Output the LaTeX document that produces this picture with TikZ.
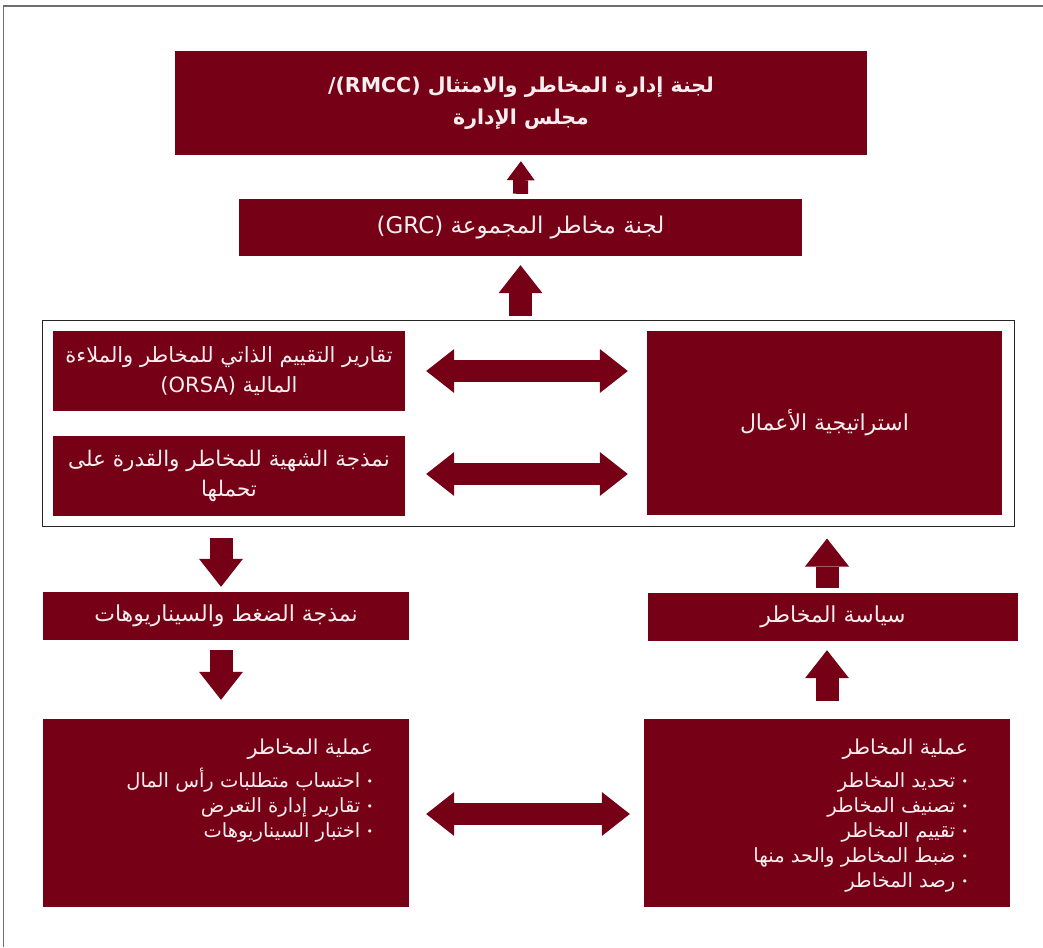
\documentclass[tikz,border=0pt]{standalone}
\usepackage{fontspec}
\usetikzlibrary{arrows.meta}
\TeXXeTstate=1
\newfontfamily\arabicfont[Script=Arabic]{DejaVu Sans}
\newfontfamily\latinfont{DejaVu Sans}
\definecolor{boxred}{RGB}{118,1,22}
\definecolor{boxtext}{RGB}{247,238,240}
\definecolor{framegray}{RGB}{110,110,110}
\newcommand\bulletmark{{\latinfont\fontsize{11}{11}\selectfont\raisebox{2pt}{•}}}
\begin{document}
\begin{tikzpicture}[x=1pt,y=-1pt,
  box/.style={fill=boxred, draw=none, text=boxtext, align=center, inner sep=0pt,
    font=\arabicfont\fontsize{22}{30}\selectfont},
  ptext/.style={text=boxtext, align=right, inner sep=0pt,
    font=\arabicfont\fontsize{19.5}{25}\selectfont},
  frameline/.style={draw=framegray, line width=1.3pt},
  blkarrow/.style={draw=boxred, line width=23pt,
    -{Triangle[width=44pt,length=28pt,line width=0pt]}},
  smallarrow/.style={draw=boxred, line width=15pt,
    -{Triangle[width=28pt,length=19pt,line width=0pt]}},
  dblarrow/.style={draw=boxred, line width=22pt,
    {Triangle[width=44pt,length=28pt,line width=0pt]}-{Triangle[width=44pt,length=28pt,line width=0pt]}}
]
\useasboundingbox (0,0) rectangle (1043,947);
\fill[white] (0,0) rectangle (1043,947);
\draw[frameline] (3.5,947) -- (3.5,6) -- (1043,6);

% boxes
\node[box, minimum width=692pt, minimum height=104pt,
  font=\arabicfont\bfseries\fontsize{20.5}{32}\selectfont] (top) at (521,103)
  {\beginR لجنة إدارة المخاطر والامتثال \beginL{\latinfont\bfseries /(RMCC)}\endL\endR\\
   \beginR مجلس الإدارة\endR};
\node[box, minimum width=563pt, minimum height=57pt,
  font=\arabicfont\fontsize{23}{30}\selectfont] (grc) at (520.5,227.5)
  {\beginR لجنة مخاطر المجموعة \beginL{\latinfont (GRC)}\endL\endR};

\node[draw=black!85, line width=1pt, minimum width=972pt, minimum height=206pt, inner sep=0pt] (frame) at (528,423) {};

\node[box, minimum width=352pt, minimum height=80pt,
  font=\arabicfont\fontsize{21}{30}\selectfont] (orsa) at (229,371)
  {\beginR تقارير التقييم الذاتي للمخاطر والملاءة\endR\\
   \beginR المالية \beginL{\latinfont (ORSA)}\endL\endR};
\node[box, minimum width=352pt, minimum height=80pt,
  font=\arabicfont\fontsize{21.5}{30}\selectfont] (appetite) at (229,476)
  {\beginR نمذجة الشهية للمخاطر والقدرة على\endR\\
   \beginR تحملها\endR};
\node[box, minimum width=355pt, minimum height=184pt] (strategy) at (824.5,423)
  {\beginR استراتيجية الأعمال\endR};

\node[box, minimum width=366pt, minimum height=48pt] (stress) at (226,616)
  {\beginR نمذجة الضغط والسيناريوهات\endR};
\node[box, minimum width=370pt, minimum height=48pt] (policy) at (833,617)
  {\beginR سياسة المخاطر\endR};

\node[box, minimum width=366pt, minimum height=188pt] (procL) at (226,813) {};
\node[box, minimum width=366pt, minimum height=188pt] (procR) at (827,813) {};

\node[ptext, anchor=north east] (procLtext) at ([xshift=-36pt,yshift=-20pt]procL.north east)
  {{\fontsize{20.5}{25}\selectfont\beginR عملية المخاطر\endR}\\[8pt]
   \beginR\bulletmark\ احتساب متطلبات رأس المال\endR\\
   \beginR\bulletmark\ تقارير إدارة التعرض\endR\\
   \beginR\bulletmark\ اختبار السيناريوهات\endR};
\node[ptext, anchor=north east] (procRtext) at ([xshift=-42pt,yshift=-20pt]procR.north east)
  {{\fontsize{20.5}{25}\selectfont\beginR عملية المخاطر\endR}\\[8pt]
   \beginR\bulletmark\ تحديد المخاطر\endR\\
   \beginR\bulletmark\ تصنيف المخاطر\endR\\
   \beginR\bulletmark\ تقييم المخاطر\endR\\
   \beginR\bulletmark\ ضبط المخاطر والحد منها\endR\\
   \beginR\bulletmark\ رصد المخاطر\endR};

% connectors
\draw[smallarrow, shorten <=5pt, shorten >=6pt] (grc.north) -- (top.south);
\draw[blkarrow, shorten <=4pt, shorten >=9pt] (frame.north -| grc.north) -- (grc.south);
\draw[dblarrow, shorten <=21pt, shorten >=19pt] (orsa.east) -- (orsa.east -| strategy.west);
\draw[dblarrow, shorten <=21pt, shorten >=19pt] ([yshift=2pt]appetite.east) -- ([yshift=2pt]appetite.east -| strategy.west);
\draw[dblarrow, shorten <=17pt, shorten >=14pt] ([yshift=-1pt]procL.east) -- ([yshift=-1pt]procL.east -| procR.west);
\draw[blkarrow, shorten <=11pt, shorten >=5pt] ([xshift=-5pt]stress.north |- frame.south) -- ([xshift=-5pt]stress.north);
\draw[blkarrow, shorten <=10pt, shorten >=19pt] ([xshift=-5pt]stress.south) -- ([xshift=-5pt]stress.south |- procL.north);
\draw[blkarrow, shorten <=18pt, shorten >=9pt] (procR.north) -- (procR.north |- policy.south);
\draw[blkarrow, shorten <=5pt, shorten >=12pt] ([xshift=-6pt]policy.north) -- ([xshift=-6pt]policy.north |- frame.south);
\end{tikzpicture}
\end{document}
